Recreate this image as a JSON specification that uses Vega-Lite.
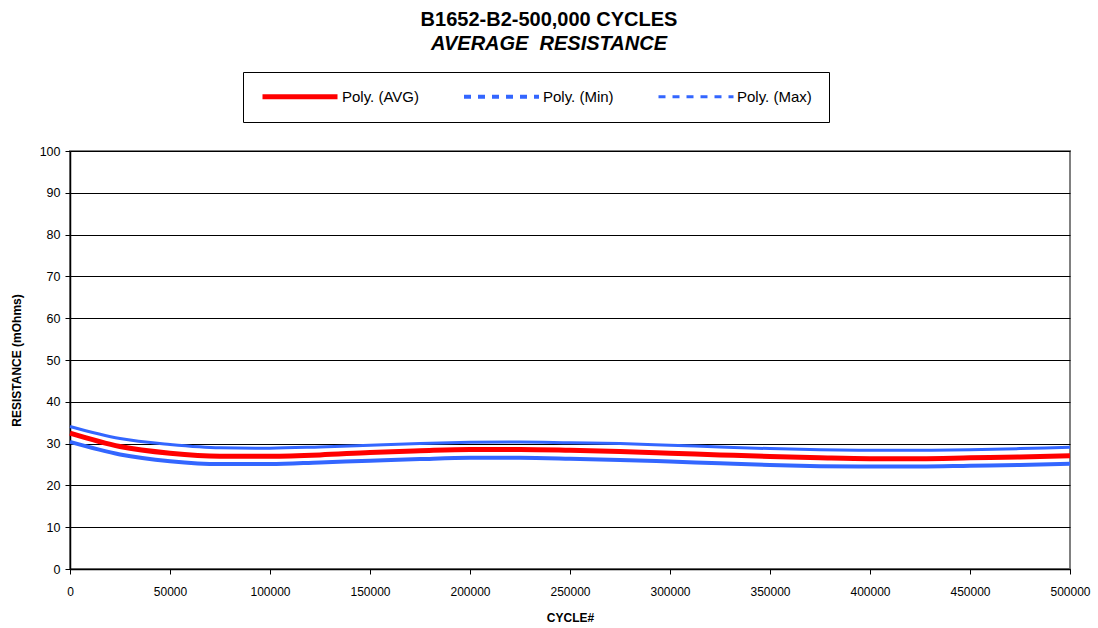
{
  "$schema": "https://vega.github.io/schema/vega-lite/v6.json",
  "width": 1000,
  "height": 418,
  "autosize": {"type": "none"},
  "padding": {"left": 70, "top": 151, "right": 28, "bottom": 59},
  "background": "white",
  "title": {
    "text": "B1652-B2-500,000 CYCLES",
    "subtitle": "AVERAGE\u00a0 RESISTANCE",
    "font": "Liberation Sans",
    "fontSize": 20,
    "fontWeight": "bold",
    "subtitleFont": "Liberation Sans",
    "subtitleFontSize": 20,
    "subtitleFontWeight": "bold",
    "subtitleFontStyle": "italic",
    "subtitleColor": "black",
    "subtitlePadding": 4,
    "color": "black",
    "anchor": "middle",
    "frame": "group",
    "dx": -21,
    "offset": 18
  },
  "config": {
    "view": {"stroke": "#808080", "strokeWidth": 2},
    "font": "Liberation Sans"
  },
  "data": {
    "values": [
      {"cycle": 0, "series": "Poly. (Max)", "r": 34.1},
      {"cycle": 25000, "series": "Poly. (Max)", "r": 31.2},
      {"cycle": 50000, "series": "Poly. (Max)", "r": 29.8},
      {"cycle": 75000, "series": "Poly. (Max)", "r": 29.0},
      {"cycle": 100000, "series": "Poly. (Max)", "r": 28.9},
      {"cycle": 125000, "series": "Poly. (Max)", "r": 29.2},
      {"cycle": 150000, "series": "Poly. (Max)", "r": 29.6},
      {"cycle": 175000, "series": "Poly. (Max)", "r": 30.0},
      {"cycle": 200000, "series": "Poly. (Max)", "r": 30.3},
      {"cycle": 225000, "series": "Poly. (Max)", "r": 30.4},
      {"cycle": 250000, "series": "Poly. (Max)", "r": 30.2},
      {"cycle": 275000, "series": "Poly. (Max)", "r": 30.0},
      {"cycle": 300000, "series": "Poly. (Max)", "r": 29.6},
      {"cycle": 325000, "series": "Poly. (Max)", "r": 29.2},
      {"cycle": 350000, "series": "Poly. (Max)", "r": 28.8},
      {"cycle": 375000, "series": "Poly. (Max)", "r": 28.5},
      {"cycle": 400000, "series": "Poly. (Max)", "r": 28.4},
      {"cycle": 425000, "series": "Poly. (Max)", "r": 28.4},
      {"cycle": 450000, "series": "Poly. (Max)", "r": 28.5},
      {"cycle": 475000, "series": "Poly. (Max)", "r": 28.8},
      {"cycle": 500000, "series": "Poly. (Max)", "r": 29.1},
      {"cycle": 0, "series": "Poly. (Min)", "r": 30.4},
      {"cycle": 25000, "series": "Poly. (Min)", "r": 27.4},
      {"cycle": 50000, "series": "Poly. (Min)", "r": 25.8},
      {"cycle": 75000, "series": "Poly. (Min)", "r": 25.1},
      {"cycle": 100000, "series": "Poly. (Min)", "r": 25.1},
      {"cycle": 125000, "series": "Poly. (Min)", "r": 25.5},
      {"cycle": 150000, "series": "Poly. (Min)", "r": 25.9},
      {"cycle": 175000, "series": "Poly. (Min)", "r": 26.3},
      {"cycle": 200000, "series": "Poly. (Min)", "r": 26.6},
      {"cycle": 225000, "series": "Poly. (Min)", "r": 26.6},
      {"cycle": 250000, "series": "Poly. (Min)", "r": 26.4},
      {"cycle": 275000, "series": "Poly. (Min)", "r": 26.1},
      {"cycle": 300000, "series": "Poly. (Min)", "r": 25.7},
      {"cycle": 325000, "series": "Poly. (Min)", "r": 25.3},
      {"cycle": 350000, "series": "Poly. (Min)", "r": 24.9},
      {"cycle": 375000, "series": "Poly. (Min)", "r": 24.6},
      {"cycle": 400000, "series": "Poly. (Min)", "r": 24.5},
      {"cycle": 425000, "series": "Poly. (Min)", "r": 24.5},
      {"cycle": 450000, "series": "Poly. (Min)", "r": 24.7},
      {"cycle": 475000, "series": "Poly. (Min)", "r": 24.9},
      {"cycle": 500000, "series": "Poly. (Min)", "r": 25.2},
      {"cycle": 0, "series": "Poly. (AVG)", "r": 32.5},
      {"cycle": 25000, "series": "Poly. (AVG)", "r": 29.3},
      {"cycle": 50000, "series": "Poly. (AVG)", "r": 27.7},
      {"cycle": 75000, "series": "Poly. (AVG)", "r": 27.0},
      {"cycle": 100000, "series": "Poly. (AVG)", "r": 27.0},
      {"cycle": 125000, "series": "Poly. (AVG)", "r": 27.3},
      {"cycle": 150000, "series": "Poly. (AVG)", "r": 27.9},
      {"cycle": 175000, "series": "Poly. (AVG)", "r": 28.3},
      {"cycle": 200000, "series": "Poly. (AVG)", "r": 28.6},
      {"cycle": 225000, "series": "Poly. (AVG)", "r": 28.6},
      {"cycle": 250000, "series": "Poly. (AVG)", "r": 28.4},
      {"cycle": 275000, "series": "Poly. (AVG)", "r": 28.1},
      {"cycle": 300000, "series": "Poly. (AVG)", "r": 27.7},
      {"cycle": 325000, "series": "Poly. (AVG)", "r": 27.3},
      {"cycle": 350000, "series": "Poly. (AVG)", "r": 26.9},
      {"cycle": 375000, "series": "Poly. (AVG)", "r": 26.6},
      {"cycle": 400000, "series": "Poly. (AVG)", "r": 26.4},
      {"cycle": 425000, "series": "Poly. (AVG)", "r": 26.4},
      {"cycle": 450000, "series": "Poly. (AVG)", "r": 26.6},
      {"cycle": 475000, "series": "Poly. (AVG)", "r": 26.8},
      {"cycle": 500000, "series": "Poly. (AVG)", "r": 27.1}
    ]
  },
  "mark": {"type": "line", "interpolate": "monotone"},
  "encoding": {
    "x": {
      "field": "cycle",
      "type": "quantitative",
      "scale": {"domain": [0, 500000], "nice": false},
      "axis": {
        "title": "CYCLE#",
        "values": [0, 50000, 100000, 150000, 200000, 250000, 300000, 350000, 400000, 450000, 500000],
        "format": "d",
        "grid": false,
        "domainColor": "black",
        "domainWidth": 1.5,
        "tickColor": "black",
        "tickSize": 5,
        "labelFont": "Liberation Sans",
        "labelFontSize": 12,
        "labelColor": "black",
        "labelPadding": 12,
        "labelFlush": false,
        "titleFont": "Liberation Sans",
        "titleFontSize": 12,
        "titleFontWeight": "bold",
        "titleColor": "black",
        "titlePadding": 15
      }
    },
    "y": {
      "field": "r",
      "type": "quantitative",
      "scale": {"domain": [0, 100], "nice": false},
      "axis": {
        "title": "RESISTANCE (mOhms)",
        "values": [0, 10, 20, 30, 40, 50, 60, 70, 80, 90, 100],
        "grid": true,
        "gridColor": "black",
        "gridWidth": 1,
        "domainColor": "black",
        "domainWidth": 1.5,
        "tickColor": "black",
        "tickSize": 5,
        "labelFont": "Liberation Sans",
        "labelFontSize": 12.5,
        "labelColor": "black",
        "labelPadding": 5,
        "titleFont": "Liberation Sans",
        "titleFontSize": 12,
        "titleFontWeight": "bold",
        "titleColor": "black",
        "titlePadding": 16
      }
    },
    "color": {
      "field": "series",
      "type": "nominal",
      "scale": {
        "domain": ["Poly. (AVG)", "Poly. (Min)", "Poly. (Max)"],
        "range": ["#FF0000", "#3366FF", "#3366FF"]
      },
      "legend": {
        "title": null,
        "orient": "none",
        "legendX": 173,
        "legendY": -79,
        "direction": "horizontal",
        "symbolType": "stroke",
        "symbolSize": 5625,
        "clipHeight": 15,
        "labelFont": "Liberation Sans",
        "labelFontSize": 15,
        "labelColor": "black",
        "labelOffset": 2,
        "columnPadding": 43,
        "padding": 17,
        "strokeColor": "black",
        "fillColor": "white",
        "encode": {
          "symbols": {
            "update": {
              "strokeWidth": {"signal": "datum.value === 'Poly. (AVG)' ? 5 : 3"},
              "strokeDash": {"signal": "datum.value === 'Poly. (AVG)' ? [] : [7, 7]"}
            }
          },
          "legend": {
            "update": {
              "stroke": {"value": "black"},
              "strokeWidth": {"value": 1}
            }
          }
        }
      }
    },
    "strokeWidth": {
      "field": "series",
      "type": "nominal",
      "scale": {"domain": ["Poly. (AVG)", "Poly. (Min)", "Poly. (Max)"], "range": [5, 3, 3]},
      "legend": null
    },
    "order": {"field": "cycle", "type": "quantitative"}
  }
}
